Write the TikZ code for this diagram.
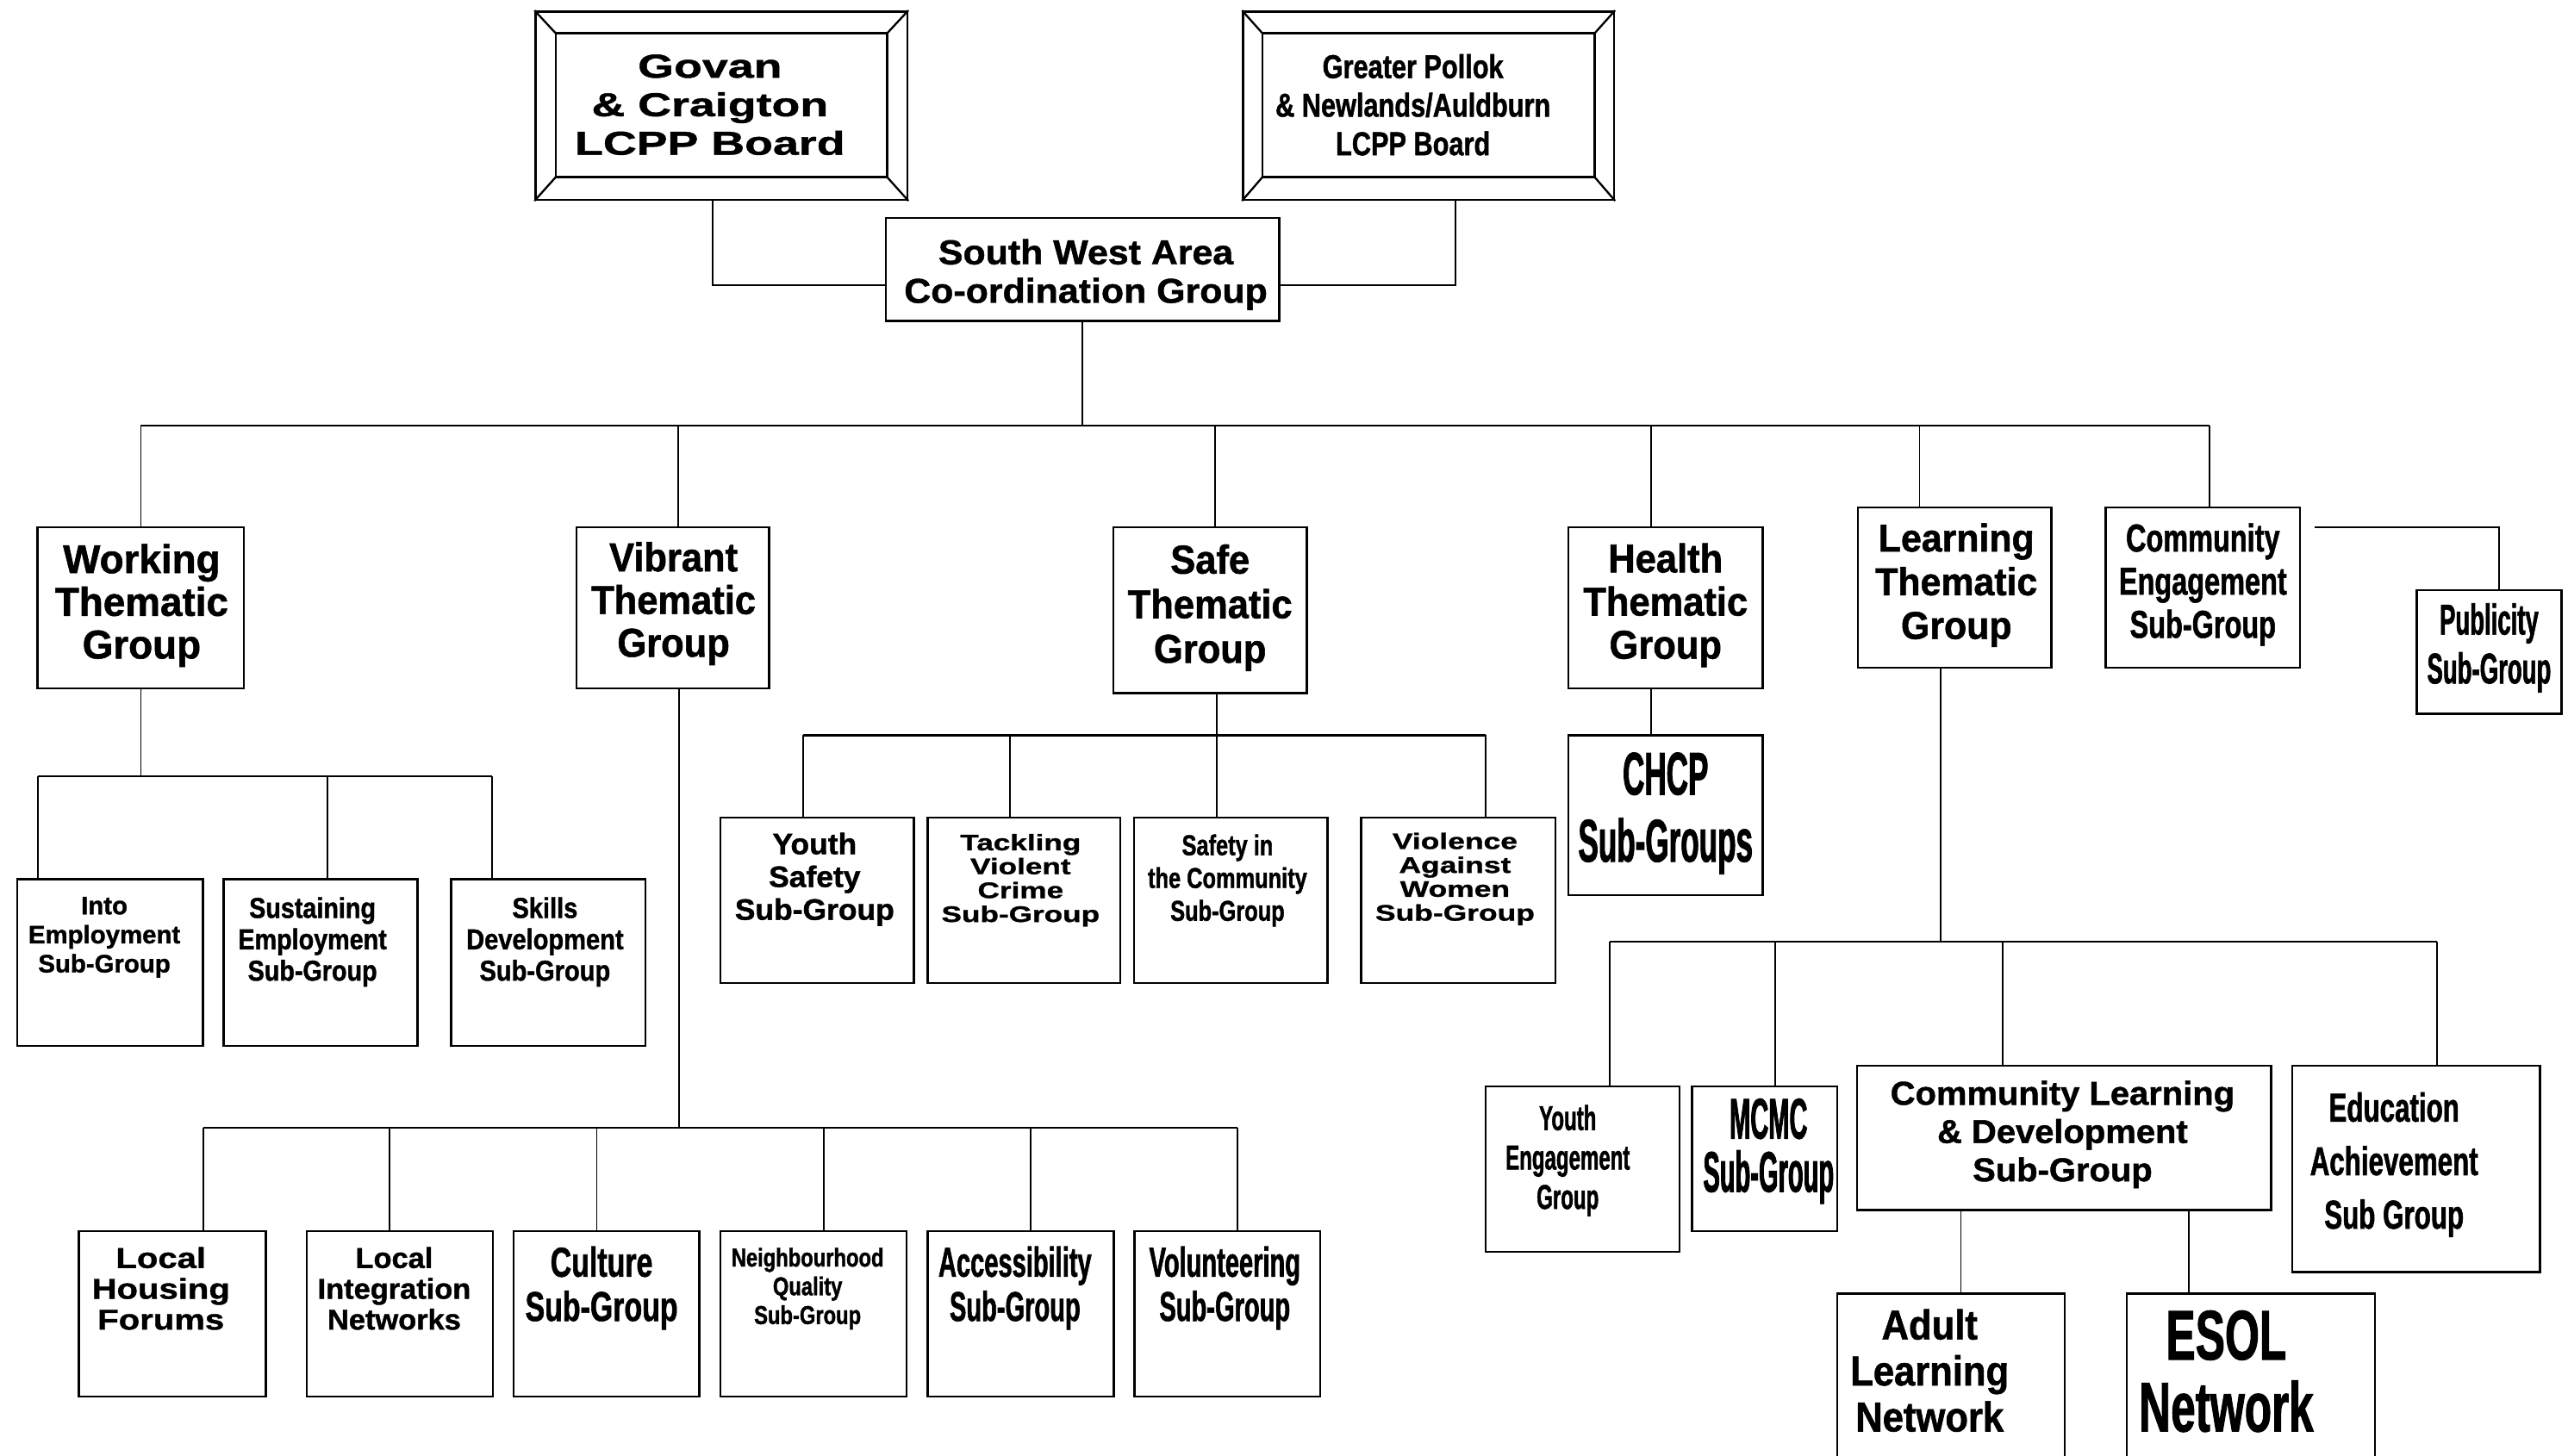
\documentclass[tikz,border=0pt]{standalone}
\usepackage{fontspec}
\setmainfont{Liberation Sans}
\usetikzlibrary{calc}
\newlength\pxu
\setlength\pxu{0.02cm}
% text block: raise (px), horizontal kern (px), lines
\newcommand\otext[3]{\raisebox{#1\pxu}[0pt][0pt]{\makebox[0pt]{\hspace*{#2\pxu}\vtop{\lineskiplimit=-\maxdimen\let\\\cr\halign{\hfil##\hfil\cr#3\crcr}}}}}
\newcommand\ofont[3]{\fontsize{#1}{#2}\bfseries\addfontfeatures{FakeStretch=#3,FakeBold=1.2}}
% box node from corners
\newcommand\obox[7]{\node[orgbox,minimum width={(#4-#2)*0.02cm},minimum height={(#5-#3)*0.02cm},font=#6] (#1) at ({(#2+#4)/2},{(#3+#5)/2}) {#7};}
\begin{document}
\begin{tikzpicture}[x=0.02cm,y=-0.02cm,
  orgbox/.style={draw=black,line width=0.75pt,fill=white,inner sep=0pt},
  conn/.style={draw=black,line width=0.55pt},
  busline/.style={draw=black,line width=0.7pt},
  frameline/.style={draw=black,line width=0.7pt}]
\fill[white] (0,0) rectangle (1568,889);
\useasboundingbox (0,0) rectangle (1568,889);

% ---- boards ----
\obox{govan}{327}{7}{554}{122}{\ofont{11.5}{13.4}{1.4}}{\otext{17.1}{-14}{Govan\\\& Craigton\\LCPP Board}}
\draw[frameline] ($(govan.north west)+(13,14)$) rectangle ($(govan.south east)+(-13,-14.5)$);
\draw[frameline] (govan.north west) -- ++(13,14) (govan.north east) -- ++(-13,14)
  (govan.south west) -- ++(13,-14.5) (govan.south east) -- ++(-13,-14.5);
\obox{pollok}{759}{7}{985.5}{122}{\ofont{11.5}{13.4}{0.8}}{\otext{16.8}{-19}{Greater Pollok\\\& Newlands/Auldburn\\LCPP Board}}
\draw[frameline] ($(pollok.north west)+(12.5,14)$) rectangle ($(pollok.south east)+(-12.5,-14.5)$);
\draw[frameline] (pollok.north west) -- ++(12.5,14) (pollok.north east) -- ++(-12.5,14)
  (pollok.south west) -- ++(12.5,-14.5) (pollok.south east) -- ++(-12.5,-14.5);
\obox{sw}{541}{133}{781}{196}{\ofont{12}{13.4}{1.07}}{\otext{3.1}{4}{South West Area\\Co-ordination Group}}

% ---- thematic groups ----
\obox{working}{23}{322}{149}{420.5}{\ofont{14}{14.85}{0.98}}{\otext{21.25}{1}{Working\\Thematic\\Group}}
\obox{vibrant}{352}{322}{469.5}{420.5}{\ofont{14}{14.85}{0.93}}{\otext{22.35}{1}{Vibrant\\Thematic\\Group}}
\obox{safe}{679.7}{322}{798}{423.4}{\ofont{14}{15.5}{0.93}}{\otext{22.4}{0}{Safe\\Thematic\\Group}}
\obox{health}{957.6}{322}{1076.3}{420.4}{\ofont{14}{15}{0.93}}{\otext{21.6}{0}{Health\\Thematic\\Group}}
\obox{learning}{1134.5}{309.8}{1252.6}{407.8}{\ofont{13.5}{15.2}{0.95}}{\otext{22}{2}{Learning\\Thematic\\Group}}
\obox{ce}{1285.7}{309.8}{1404.4}{407.8}{\ofont{13.5}{15}{0.72}}{\otext{22}{0}{Community\\Engagement\\Sub-Group}}
\obox{pub}{1475.6}{360.3}{1564}{436}{\ofont{15}{17}{0.55}}{\otext{10.6}{0}{Publicity\\Sub-Group}}

% ---- working subgroups ----
\obox{into}{10.4}{537}{124}{638.7}{\ofont{8.8}{10.1}{1.0}}{\otext{29.45}{-7}{Into\\Employment\\Sub-Group}}
\obox{sust}{136.6}{537}{255}{638.7}{\ofont{10}{10.9}{0.86}}{\otext{27.25}{-10}{Sustaining\\Employment\\Sub-Group}}
\obox{skills}{275.5}{537}{394}{638.7}{\ofont{10}{10.9}{0.87}}{\otext{27.25}{-4}{Skills\\Development\\Sub-Group}}

% ---- safe subgroups ----
\obox{ys}{439.8}{499.3}{558}{600.3}{\ofont{10.3}{11.4}{1.03}}{\otext{28.1}{-3}{Youth\\Safety\\Sub-Group}}
\obox{tvc}{566.3}{499.3}{684}{600.3}{\ofont{7.8}{8.3}{1.35}}{\otext{30.5}{-4}{Tackling\\Violent\\Crime\\Sub-Group}}
\obox{sic}{692.4}{499.3}{810.6}{600.3}{\ofont{10}{11.4}{0.76}}{\otext{27.5}{-4}{Safety in\\the Community\\Sub-Group}}
\obox{vaw}{831}{499.3}{949.8}{600.3}{\ofont{7.8}{8.3}{1.36}}{\otext{31.3}{-4}{Violence\\Against\\Women\\Sub-Group}}

% ---- health subgroups ----
\obox{chcp}{957.6}{449}{1076.3}{546.8}{\ofont{21}{23.3}{0.5}}{\otext{12.6}{0}{CHCP\\Sub-Groups}}

% ---- learning subgroups ----
\obox{ye}{907}{663.5}{1025.5}{764.4}{\ofont{12}{13.7}{0.6}}{\otext{23.75}{-18}{Youth\\Engagement\\Group}}
\obox{mcmc}{1033}{663.5}{1121.7}{752}{\ofont{20}{18.5}{0.435}}{\otext{12.35}{5}{MCMC\\Sub-Group}}
\obox{cld}{1134}{650.8}{1386.7}{739}{\ofont{11.5}{13.3}{1.04}}{\otext{20.2}{-2}{Community Learning\\\& Development\\Sub-Group}}
\obox{edu}{1399.6}{650.8}{1551}{777}{\ofont{14}{18.6}{0.67}}{\otext{28.9}{-27}{Education\\Achievement\\Sub Group}}
\obox{adult}{1121.7}{790}{1260.7}{900}{\ofont{14.5}{16}{0.9}}{\otext{27}{-26}{Adult\\Learning\\Network}}
\obox{esol}{1298.6}{790}{1450}{900}{\ofont{24.4}{25}{0.63}}{\otext{14.7}{-30}{ESOL\\Network}}

% ---- vibrant subgroups ----
\obox{lhf}{48.2}{752}{162.3}{852.8}{\ofont{10}{10.7}{1.2}}{\otext{28}{-14}{Local\\Housing\\Forums}}
\obox{lin}{187.4}{752}{301}{852.8}{\ofont{10}{10.7}{1.03}}{\otext{28}{-7}{Local\\Integration\\Networks}}
\obox{cul}{313.6}{752}{427}{852.8}{\ofont{14.5}{15.4}{0.7}}{\otext{22.7}{-6}{Culture\\Sub-Group}}
\obox{nq}{439.8}{752}{553.4}{852.8}{\ofont{9}{10}{0.79}}{\otext{28.9}{-7}{Neighbourhood\\Quality\\Sub-Group}}
\obox{acc}{566.5}{752}{680}{852.8}{\ofont{14.5}{15.4}{0.6}}{\otext{22.7}{-7}{Accessibility\\Sub-Group}}
\obox{vol}{692.7}{752}{806}{852.8}{\ofont{14.5}{15.4}{0.6}}{\otext{22.7}{-3}{Volunteering\\Sub-Group}}

% ---- connectors: boards to SW ----
\coordinate (jg) at (435,174);
\coordinate (jp) at (888.6,174);
\draw[conn] (jg |- govan.south) -- (jg) -- (jg -| sw.west);
\draw[conn] (jp |- pollok.south) -- (jp) -- (jp -| sw.east);

% ---- main bus ----
\coordinate (m1) at (86,260);
\coordinate (m2) at (414,260);
\coordinate (m3) at (742,260);
\coordinate (m4) at (1008,260);
\coordinate (m5) at (1172,260);
\coordinate (m6) at (1349,260);
\draw[conn] (sw.south) -- (sw.south |- m1);
\draw[busline] (m1) -- (m6);
\foreach \c/\n in {m1/working,m2/vibrant,m3/safe,m4/health,m5/learning,m6/ce}
  \draw[conn] (\c) -- (\c |- \n.north);

% ---- publicity ----
\coordinate (pj) at (1526,322);
\draw[conn] ($(pj -| ce.east)+(8,0)$) -- (pj) -- (pj |- pub.north);

% ---- working bus ----
\coordinate (w1) at (23,474);
\coordinate (w2) at (200,474);
\coordinate (w3) at (300.6,474);
\draw[conn] (working.south) -- (working.south |- w1);
\draw[busline] (w1) -- (w3);
\foreach \c/\n in {w1/into,w2/sust,w3/skills}
  \draw[conn] (\c) -- (\c |- \n.north);

% ---- vibrant bus ----
\coordinate (vj) at (414.6,688.8);
\coordinate (v1) at (124,688.8);
\coordinate (v2) at (237.7,688.8);
\coordinate (v3) at (364.4,688.8);
\coordinate (v4) at (503,688.8);
\coordinate (v5) at (629.3,688.8);
\coordinate (v6) at (755.4,688.8);
\draw[conn] (vj |- vibrant.south) -- (vj);
\draw[busline] (v1) -- (v6);
\foreach \c/\n in {v1/lhf,v2/lin,v3/cul,v4/nq,v5/acc,v6/vol}
  \draw[conn] (\c) -- (\c |- \n.north);

% ---- safe bus ----
\coordinate (s1) at (490.4,449);
\coordinate (s2) at (616.5,449);
\coordinate (s3) at (743,449);
\coordinate (s4) at (907,449);
\draw[conn] (s3 |- safe.south) -- (s3);
\draw[busline] (s1) -- (s4);
\foreach \c/\n in {s1/ys,s2/tvc,s3/sic,s4/vaw}
  \draw[conn] (\c) -- (\c |- \n.north);

% ---- health ----
\coordinate (hj) at (1008.3,449);
\draw[conn] (hj |- health.south) -- (hj |- chcp.north);

% ---- learning bus ----
\coordinate (lj) at (1185,575);
\coordinate (l1) at (983,575);
\coordinate (l2) at (1084,575);
\coordinate (l3) at (1222.7,575);
\coordinate (l4) at (1488,575);
\draw[conn] (lj |- learning.south) -- (lj);
\draw[busline] (l1) -- (l4);
\foreach \c/\n in {l1/ye,l2/mcmc,l3/cld,l4/edu}
  \draw[conn] (\c) -- (\c |- \n.north);

% ---- CLD networks ----
\coordinate (c1) at (1197.3,790);
\coordinate (c2) at (1336.5,790);
\draw[conn] (c1 |- cld.south) -- (c1 |- adult.north);
\draw[conn] (c2 |- cld.south) -- (c2 |- esol.north);
\end{tikzpicture}
\end{document}
